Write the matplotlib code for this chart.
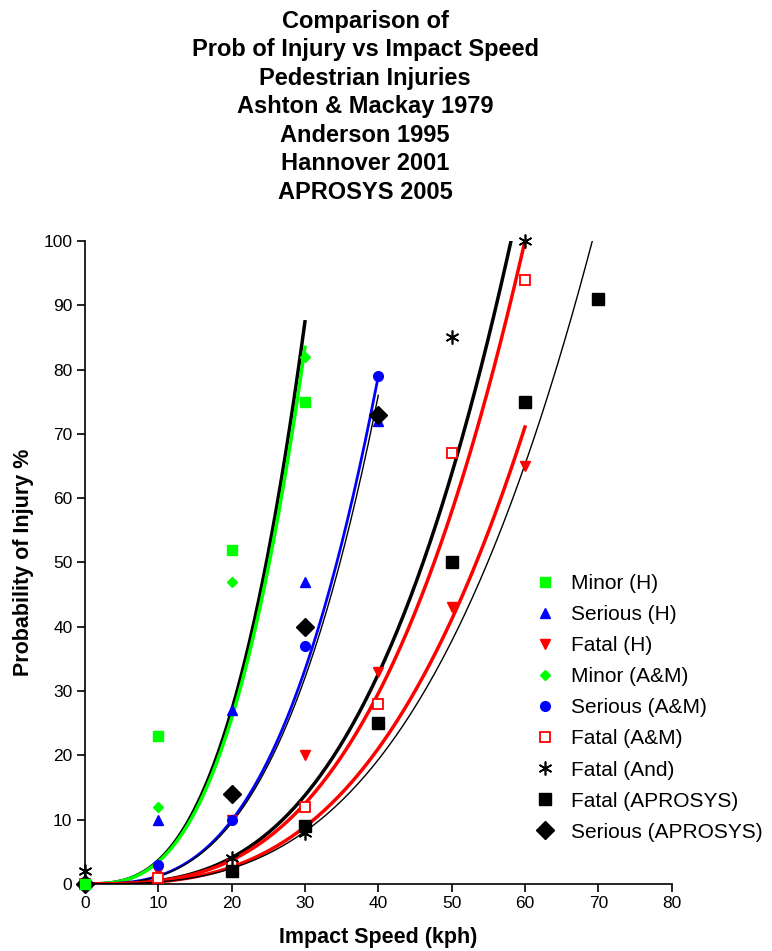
import numpy as np
import matplotlib.pyplot as plt

plt.rcParams["font.family"] = ["Liberation Sans", "DejaVu Sans"]

TITLE_LINES = [
    "Comparison of",
    "Prob of Injury vs Impact Speed",
    "Pedestrian Injuries",
    "Ashton & Mackay 1979",
    "Anderson 1995",
    "Hannover 2001",
    "APROSYS 2005",
]

# measured injury probabilities (%) at impact speed (kph)
minor_h_speed = [0, 10, 20, 30]
minor_h_prob = [0, 23, 52, 75]
serious_h_speed = [0, 10, 20, 30, 40]
serious_h_prob = [0, 10, 27, 47, 72]
fatal_h_speed = [0, 10, 20, 30, 40, 50, 60]
fatal_h_prob = [0, 2, 10, 20, 33, 43, 65]
minor_am_speed = [0, 10, 20, 30]
minor_am_prob = [0, 12, 47, 82]
serious_am_speed = [0, 10, 20, 30, 40]
serious_am_prob = [0, 3, 10, 37, 79]
fatal_am_speed = [0, 10, 20, 30, 40, 50, 60]
fatal_am_prob = [0, 1, 3, 12, 28, 67, 94]
fatal_and_speed = [0, 20, 30, 50, 60]
fatal_and_prob = [2, 4, 8, 85, 100]
fatal_apr_speed = [20, 30, 40, 50, 60, 70]
fatal_apr_prob = [2, 9, 25, 50, 75, 91]
serious_apr_speed = [0, 20, 30, 40]
serious_apr_prob = [0, 14, 40, 73]

# power trendlines  p = coef * speed ** power, drawn from 0 to end speed
trend_coef = [0.00455, 0.004344, 0.001234, 0.0011875, 0.00051, 0.000463, 0.000329, 0.000302]
trend_power = [2.9, 2.9, 3.0, 3.0, 3.0, 3.0, 3.0, 3.0]
trend_end = [30, 30, 40, 40, 58.1, 60, 60, 69.2]
trend_color = ["black", "#00ff00", "#0000ff", "black", "black", "red", "red", "black"]
trend_width = [2.5, 2.5, 2.0, 1.0, 2.5, 2.5, 2.5, 1.0]

fig = plt.figure(figsize=(7.72, 9.51), dpi=100)
ax = fig.add_axes([0.110, 0.0705, 0.760, 0.6761])

for coef, power, end, color, lw in zip(trend_coef, trend_power, trend_end, trend_color, trend_width):
    speed = np.linspace(0, end, 200)
    ax.plot(speed, coef * speed ** power, color=color, linewidth=lw, zorder=2)

series = [
    (minor_h_speed, minor_h_prob, "Minor (H)", dict(marker="s", ms=7, color="#00ff00", zorder=4)),
    (serious_h_speed, serious_h_prob, "Serious (H)", dict(marker="^", ms=7.5, color="#0000ff")),
    (fatal_h_speed, fatal_h_prob, "Fatal (H)", dict(marker="v", ms=7.5, color="red")),
    (minor_am_speed, minor_am_prob, "Minor (A&M)", dict(marker="D", ms=5.5, color="#00ff00")),
    (serious_am_speed, serious_am_prob, "Serious (A&M)", dict(marker="o", ms=7, color="#0000ff")),
    (fatal_am_speed, fatal_am_prob, "Fatal (A&M)", dict(marker="s", ms=6.5, color="red",
                                                       mfc="white", mew=1.3)),
    (fatal_and_speed, fatal_and_prob, "Fatal (And)", dict(marker=(6, 2, 0), ms=10, color="black",
                                                        mew=1.2)),
    (fatal_apr_speed, fatal_apr_prob, "Fatal (APROSYS)", dict(marker="s", ms=9, color="black")),
    (serious_apr_speed, serious_apr_prob, "Serious (APROSYS)", dict(marker="D", ms=9.5,
                                                                  color="black")),
]
for speed, prob, label, style in series:
    style.setdefault("zorder", 3)
    ax.plot(speed, prob, linestyle="none", label=label, clip_on=False, **style)

ax.set_xlim(0, 80)
ax.set_ylim(0, 100)
ax.set_xticks(range(0, 81, 10))
ax.set_yticks(range(0, 101, 10))
ax.tick_params(direction="out", length=6, width=1.2, labelsize=12.5, pad=3)
for side in ("top", "right"):
    ax.spines[side].set_visible(False)
for side in ("left", "bottom"):
    ax.spines[side].set_linewidth(1.2)

ax.set_xlabel("Impact Speed (kph)", fontsize=15.5, fontweight="bold", va="center")
ax.set_ylabel("Probability of Injury %", fontsize=15.5, fontweight="bold", va="center")
ax.xaxis.set_label_coords(0.5, -0.083)
ax.yaxis.set_label_coords(-0.104, 0.5)

fig.text(0.473, 0.99, "\n".join(TITLE_LINES), ha="center", va="top",
         fontsize=17, fontweight="bold", linespacing=1.31)

ax.legend(loc="upper left", bbox_to_anchor=(0.693, 0.3964), bbox_transform=fig.transFigure,
          frameon=False, fontsize=15, handlelength=1.0, handletextpad=0.72,
          labelspacing=0.58, borderpad=0, borderaxespad=0, numpoints=1)

fig.savefig("out.png", dpi=100)
